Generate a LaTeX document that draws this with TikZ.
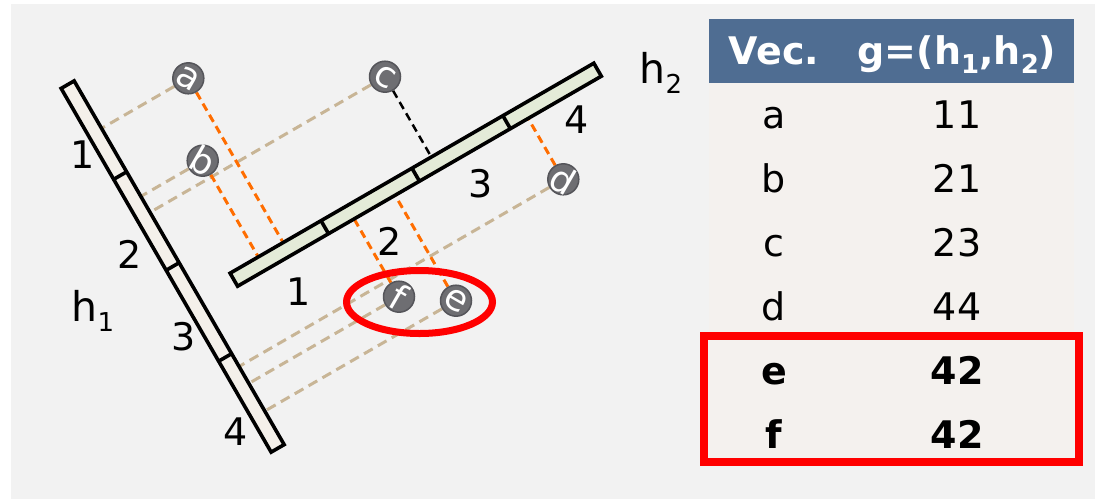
\documentclass[tikz,border=0pt]{standalone}
\usepackage{fontspec}
\setmainfont{DejaVu Sans}
\usetikzlibrary{calc}
\definecolor{bggray}{HTML}{F2F2F2}
\definecolor{tanc}{HTML}{C8B596}
\definecolor{orangec}{HTML}{FF6D00}
\definecolor{hafill}{HTML}{F4F0EA}
\definecolor{hbfill}{HTML}{E4EBD8}
\definecolor{headblue}{HTML}{4F6D92}
\definecolor{bodybeige}{HTML}{F4F1EE}
\definecolor{ptfill}{HTML}{6E6E72}
\definecolor{ptdraw}{HTML}{55555A}
\newcommand\mysub[1]{\raisebox{-0.24em}{\fontsize{26}{26}\selectfont #1}}
\pgfdeclarelayer{back}
\pgfdeclarelayer{lines}
\pgfsetlayers{back,lines,main}
\begin{document}
\begin{tikzpicture}[x=1pt,y=-1pt,
  txt/.style={font=\fontsize{38}{40}\selectfont, inner sep=0pt},
  hlab/.style={font=\fontsize{41}{44}\selectfont, inner sep=0pt, anchor=base west},
  barline/.style={draw=black, line width=3.6pt, line join=miter},
  tickline/.style={black, line width=3.6pt},
  tanline/.style={tanc, line width=3pt, dash pattern=on 10pt off 6pt},
  orline/.style={orangec, line width=3pt, dash pattern=on 8pt off 5pt},
  blkline/.style={black, line width=2.5pt, dash pattern=on 8pt off 5pt},
  pt/.style={circle, fill=ptfill, draw=ptdraw, line width=1.5pt, minimum size=31pt, inner sep=0pt},
  ptlab/.style={text=white, font=\fontsize{36}{36}\selectfont, rotate=-30, inner sep=0pt},
  cell/.style={font=\fontsize{38}{40}\selectfont, inner sep=0pt, anchor=base},
  boldcell/.style={cell, font=\fontsize{38}{40}\selectfont\bfseries},
]
\useasboundingbox (0,0) rectangle (1095,499);
\begin{pgfonlayer}{back}
\fill[white] (0,0) rectangle (1095,499);
\fill[bggray] (11,4) rectangle (1095,499);
% table
\fill[bodybeige] (709,83) rectangle (1074,460);
\fill[headblue] (709,19) rectangle (1074,83);
\end{pgfonlayer}
\node[boldcell, text=white] (hv) at (774,64.5) {Vec.};
\node[boldcell, text=white] (hg) at (957,64.5) {g=(h\mysub{1},h\mysub{2})};
\node[cell] (ra) at (774,128.5) {a};
\node[cell] (va) at (957,128.5) {11};
\node[cell] (rb) at (774,192.5) {b};
\node[cell] (vb) at (957,192.5) {21};
\node[cell] (rc) at (774,256.5) {c};
\node[cell] (vc) at (957,256.5) {23};
\node[cell] (rd) at (774,320.5) {d};
\node[cell] (vd) at (957,320.5) {44};
\node[boldcell] (re) at (774,384.5) {e};
\node[boldcell] (ve) at (957,384.5) {42};
\node[boldcell] (rf) at (774,448.5) {f};
\node[boldcell] (vf) at (957,448.5) {42};
\draw[red, line width=8pt] (704,336) rectangle (1079,462);

% bar h1
\coordinate (h1L1) at (61.15,88.4);
\coordinate (h1L2) at (271.15,452.12);
\coordinate (h1R1) at (74.15,80.9);
\coordinate (h1R2) at (284.15,444.62);
\draw[barline, fill=hafill] (h1L1) -- (h1R1) -- (h1R2) -- (h1L2) -- cycle;
\foreach \t in {0.25,0.5,0.75}
  \draw[tickline] ($(h1L1)!\t!(h1L2)$) -- ($(h1R1)!\t!(h1R2)$);
% bar h2
\coordinate (h2U1) at (230.1,273.2);
\coordinate (h2U2) at (593.82,63.2);
\coordinate (h2D1) at (237.6,286.2);
\coordinate (h2D2) at (601.32,76.2);
\draw[barline, fill=hbfill] (h2U1) -- (h2U2) -- (h2D2) -- (h2D1) -- cycle;
\foreach \t in {0.25,0.5,0.75}
  \draw[tickline] ($(h2U1)!\t!(h2U2)$) -- ($(h2D1)!\t!(h2D2)$);

% points
\node[pt] (a) at (188.3,78.3) {};
\node[pt] (b) at (202.7,160.7) {};
\node[pt] (c) at (385,76.7) {};
\node[pt] (d) at (563.3,179.3) {};
\node[pt] (f) at (399,296.7) {};
\node[pt] (e) at (456,300.7) {};
\foreach \p in {a,b,c,d,e,f}
  \node[ptlab] (\p lab) at (\p) {\p};

% projection points
\foreach \p in {a,b,c,d,e,f}
  \coordinate (\p1) at ($(h1R1)!(\p)!(h1R2)$);
\foreach \p in {a,b,c}
  \coordinate (\p2) at ($(h2U1)!(\p)!(h2U2)$);
\foreach \p in {d,e,f}
  \coordinate (\p2) at ($(h2D1)!(\p)!(h2D2)$);

\begin{pgfonlayer}{lines}
\foreach \p in {a,b,c,d,e,f}
  \draw[tanline] (\p) -- (\p1);
\foreach \p in {a,b,d,e,f}
  \draw[orline] (\p) -- (\p2);
\draw[blkline] (c) -- (c2);
\end{pgfonlayer}

% segment labels
\node[txt] (s11) at (82.3,155) {1};
\node[txt] (s12) at (130,254) {2};
\node[txt] (s13) at (183.3,337) {3};
\node[txt] (s14) at (236,431.7) {4};
\node[txt] (s21) at (299,291.7) {1};
\node[txt] (s22) at (389.3,241.7) {2};
\node[txt] (s23) at (481,183.3) {3};
\node[txt] (s24) at (576.7,120) {4};
\node[hlab] (h1lab) at (71.5,321.7) {h\mysub{1}};
\node[hlab] (h2lab) at (639.5,83.3) {h\mysub{2}};

% highlight
\draw[red, line width=7pt] (419.5,302) ellipse [x radius=73pt, y radius=31.5pt];
\end{tikzpicture}
\end{document}
